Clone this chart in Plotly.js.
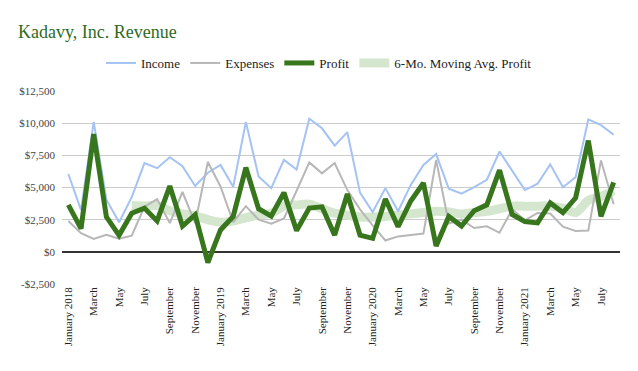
<!DOCTYPE html>
<html>
<head>
<meta charset="utf-8">
<script src="https://cdn.plot.ly/plotly-3.0.1.min.js"></script>
<style>
  html, body { margin: 0; padding: 0; background: #ffffff; }
  #chart { width: 638px; height: 371px; }
</style>
</head>
<body>
<div id="chart"></div>
<script>
// Month labels (January 2018 .. August 2021)
const months = [
  "January 2018","February","March","April","May","June","July","August","September","October","November","December",
  "January 2019","February","March","April","May","June","July","August","September","October","November","December",
  "January 2020","February","March","April","May","June","July","August","September","October","November","December",
  "January 2021","February","March","April","May","June","July","August"
];

const income = [
  6050, 3250, 10100, 4050, 2300, 4250, 6900, 6500, 7350, 6650, 5120, 6150,
  6750, 5050, 10100, 5850, 4950, 7150, 6400, 10350, 9600, 8250, 9300, 4600,
  3100, 4950, 3150, 5200, 6750, 7600, 4900, 4520, 5030, 5600, 7800, 6250,
  4800, 5290, 6800, 5020, 5800, 10300, 9850, 9100
];

const expenses = [
  2400, 1450, 1000, 1330, 1020, 1250, 3500, 4100, 2240, 4650, 2240, 6980,
  5080, 2300, 3550, 2500, 2180, 2600, 4750, 6950, 6100, 6900, 4800, 3300,
  2050, 880, 1200, 1300, 1420, 7150, 2200, 2500, 1850, 1980, 1480, 3300,
  2450, 3020, 2980, 1950, 1620, 1650, 7100, 3700
];

const profit = [
  3650, 1800, 9150, 2720, 1280, 3000, 3400, 2400, 5110, 2000, 2880, -830,
  1700, 2750, 6550, 3350, 2780, 4600, 1650, 3400, 3500, 1300, 4500, 1300,
  1050, 4100, 1950, 3950, 5350, 450, 2750, 2000, 3200, 3650, 6350, 2900,
  2350, 2250, 3800, 3050, 4200, 8650, 2750, 5400
];

const movingAvgProfit = [
  null, null, null, null, null, 3600, 3560, 3600, 3200, 2950, 2800, 2500,
  2300, 2400, 2650, 2850, 3000, 3550, 3650, 3700, 3350, 3000, 2850, 2700,
  2700, 2750, 2850, 2950, 3050, 3150, 3100, 2950, 3050, 3150, 3350, 3550,
  3550, 3550, 3550, 3400, 3050, 4000, 4300, 4750
];

const yTicks = [-2500, 0, 2500, 5000, 7500, 10000, 12500];
const yTickText = ["-$2,500", "$0", "$2,500", "$5,000", "$7,500", "$10,000", "$12,500"];

const xIdx = months.map((m, i) => i);
const xTickVals = xIdx.filter(i => i % 2 === 0);
const xTickText = xTickVals.map(i => months[i]);

const FONT = "Liberation Serif";

const traces = [
  {
    x: xIdx, y: movingAvgProfit, name: "6-Mo. Moving Avg. Profit",
    type: "scatter", mode: "lines",
    line: { color: "#d5e6cf", width: 9, shape: "spline", smoothing: 0.8 },
    legendrank: 4, hoverinfo: "skip"
  },
  {
    x: xIdx, y: income, name: "Income",
    type: "scatter", mode: "lines",
    line: { color: "#a4c2f4", width: 2 },
    legendrank: 1
  },
  {
    x: xIdx, y: expenses, name: "Expenses",
    type: "scatter", mode: "lines",
    line: { color: "#b7b7b7", width: 2 },
    legendrank: 2
  },
  {
    x: xIdx, y: profit, name: "Profit",
    type: "scatter", mode: "lines",
    line: { color: "#38761d", width: 5 },
    legendrank: 3
  }
];

const layout = {
  width: 638,
  height: 371,
  paper_bgcolor: "#ffffff",
  plot_bgcolor: "#ffffff",
  margin: { l: 62, r: 18, t: 91, b: 87, pad: 0 },
  font: { family: FONT, color: "#444444", size: 11 },
  title: {
    text: "Kadavy, Inc. Revenue",
    font: { family: FONT, size: 18, color: "#2f6b1f" },
    x: 18 / 638, xref: "container", xanchor: "left",
    y: 1 - 32 / 371, yref: "container", yanchor: "middle"
  },
  showlegend: true,
  legend: {
    orientation: "h",
    xref: "container", yref: "container",
    x: 0.5, xanchor: "center",
    y: 1 - 63 / 371, yanchor: "middle",
    font: { family: FONT, size: 13, color: "#222222" },
    itemwidth: 30,
    traceorder: "normal",
    bgcolor: "rgba(0,0,0,0)"
  },
  xaxis: {
    range: [-0.5, 43.5],
    tickmode: "array",
    tickvals: xTickVals,
    ticktext: xTickText,
    tickangle: -90,
    showgrid: false,
    zeroline: false,
    showline: false,
    ticks: "",
    tickfont: { family: FONT, size: 11, color: "#222222" },
    fixedrange: true
  },
  yaxis: {
    range: [-2500, 12500],
    tickmode: "array",
    tickvals: yTicks,
    ticktext: yTickText,
    showgrid: true,
    gridcolor: "#cccccc",
    gridwidth: 1,
    zeroline: true,
    zerolinecolor: "#333333",
    zerolinewidth: 1.5,
    showline: false,
    ticks: "",
    ticklabelstandoff: 6,
    tickfont: { family: FONT, size: 11, color: "#444444" },
    fixedrange: true
  },
  hovermode: false
};

Plotly.newPlot("chart", traces, layout, { displayModeBar: false, staticPlot: true });
</script>
</body>
</html>
